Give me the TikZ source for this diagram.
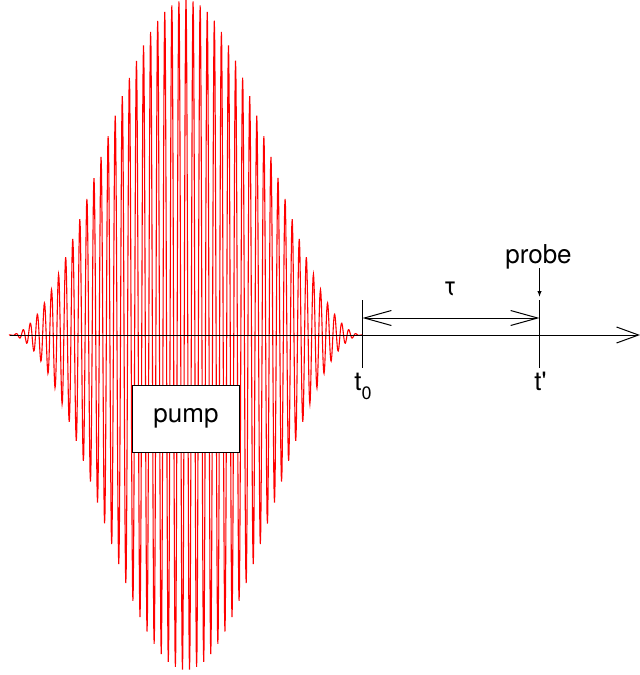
\documentclass[tikz,border=0pt]{standalone}
\usepackage{fontspec}
\setmainfont{TeX Gyre Heros}
\usetikzlibrary{arrows.meta}

\begin{document}
\begin{tikzpicture}[x=0.5pt, y=-0.5pt, line width=0.5pt,
  font=\fontsize{13}{15}\selectfont,
  pulse/.style={red, line width=0.55pt},
  barb/.tip={Straight Barb[length=13.5pt, width=7.5pt]},
  tlabel/.style={anchor=base, inner sep=0pt}]
\useasboundingbox (0,0) rectangle (640,675);

\draw[pulse] plot[domain=9:363, samples=1001]
  (\x, {335 - 335*cos((\x-186)/177*90)*cos((\x-186)/177*90)*cos((\x-186)/7.08*360)});

\coordinate (start) at (10,335);
\coordinate (end) at (640,335);
\draw[-{Straight Barb[length=11pt, width=8pt]}] (start) -- (end);

\coordinate (t0top) at (362.5,300);
\coordinate (t0bot) at (362.5,368);
\coordinate (t1top) at (539.5,300);
\coordinate (t1bot) at (539.5,368);
\draw (t0top) -- (t0bot);
\draw (t1top) -- (t1bot);

\coordinate (tauleft) at (362.5,318);
\coordinate (tauright) at (539.5,318);
\draw[barb-barb] (tauleft) -- (tauright);
\node (tau) at (450,289) {τ};

\node[tlabel] (probe) at (538.5,263) {probe};
\coordinate (probetip) at (539.5,297);
\draw[-{Latex[length=3pt, width=2.2pt]}] (probetip |- 0,268) -- (probetip);

\node[tlabel] (t0) at (363,390) {t\raisebox{-4.5pt}{\fontsize{9}{9}\selectfont 0}};
\node[tlabel] (t1) at (540.5,390) {t\textquotesingle};

\node[draw, fill=white, minimum width=53.3pt, minimum height=33.6pt, inner sep=0pt] (pump) at (186,418.7) {pump};

\end{tikzpicture}
\end{document}
